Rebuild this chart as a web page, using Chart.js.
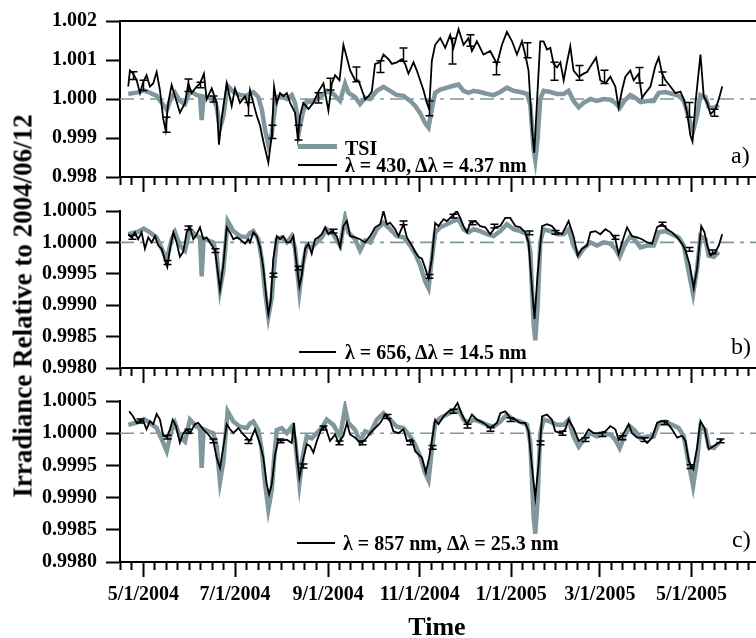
<!DOCTYPE html>
<html>
<head>
<meta charset="utf-8">
<title>Irradiance relative to 2004/06/12</title>
<script src="https://cdn.jsdelivr.net/npm/chart.js@4.4.1/dist/chart.umd.min.js"></script>
<style>
  body { margin: 0; background: #fff; }
  #wrap {
    position: relative; width: 756px; height: 638px; overflow: hidden;
    font-family: 'Liberation Serif', 'Times New Roman', serif; color: #000;
  }
  #wrap canvas { position: absolute; left: 0; }
  .lab { position: absolute; white-space: nowrap; font-weight: bold; font-size: 20px; line-height: 1; transform: translateY(-50%); }
  .panel { position: absolute; font-size: 24px; line-height: 1; transform: translateY(-50%); }
  .swatch { position: absolute; }
  #ytitle {
    position: absolute; left: 23px; top: 306px; white-space: nowrap;
    font-weight: bold; font-size: 27px; line-height: 1;
    transform: translate(-50%, -50%) rotate(-90deg);
  }
  #xtitle {
    position: absolute; left: 437px; top: 627px; white-space: nowrap;
    font-weight: bold; font-size: 26px; line-height: 1;
    transform: translate(-50%, -50%);
  }
</style>
</head>
<body>
<div id="wrap">
  <canvas id="panelA" width="756" height="200" style="top:0px"></canvas>
  <canvas id="panelB" width="756" height="200" style="top:190px"></canvas>
  <canvas id="panelC" width="756" height="258" style="top:380px"></canvas>

  <div id="ytitle">Irradiance Relative to 2004/06/12</div>
  <div id="xtitle">Time</div>

  <!-- panel a legend -->
  <div class="swatch" style="left:298px;top:144px;width:39px;height:5px;background:#7f979d"></div>
  <div class="lab" style="left:345px;top:148px">TSI</div>
  <div class="swatch" style="left:298px;top:164px;width:39px;height:2px;background:#000"></div>
  <div class="lab" style="left:345px;top:165px">λ = 430, Δλ = 4.37 nm</div>
  <div class="panel" style="left:731px;top:155px">a)</div>

  <!-- panel b legend -->
  <div class="swatch" style="left:299px;top:351px;width:37px;height:2px;background:#000"></div>
  <div class="lab" style="left:345px;top:352px">λ = 656, Δλ = 14.5 nm</div>
  <div class="panel" style="left:731px;top:346px">b)</div>

  <!-- panel c legend -->
  <div class="swatch" style="left:297px;top:542px;width:38px;height:2px;background:#000"></div>
  <div class="lab" style="left:343px;top:543px">λ = 857 nm, Δλ = 25.3 nm</div>
  <div class="panel" style="left:732px;top:539px">c)</div>
</div>

<script>
// x values are days since 5/1/2004
const majorDays = [0, 61, 123, 184, 245, 304, 365];
const majorLabels = ['5/1/2004', '7/1/2004', '9/1/2004', '11/1/2004', '1/1/2005', '3/1/2005', '5/1/2005'];
const xMin = -15.6;
const xMax = 408;

const ticksA = [0.998, 0.999, 1.000, 1.001, 1.002];
const ticksBC = [0.998, 0.9985, 0.999, 0.9995, 1.000, 1.0005];
const refLevel = 1.0;

// total solar irradiance (same in every panel)
const tsiDays = [
  -10.1, -6.8, -3.5, 0.3, 4.3, 8.8, 13.2, 15.5, 18.8, 21,
  24.3, 27.7, 31, 35.5, 37.7, 38.8, 40.1, 43.2, 46.5, 48.8,
  51, 53.2, 56.1, 59.9, 64.3, 68.8, 71, 73.2, 76.5, 78.8,
  81, 83.2, 85.5, 87, 88.8, 92.1, 95.5, 98.8, 101, 103.9,
  106.1, 108.8, 112.1, 115.5, 118.8, 122.1, 126.5, 131, 134.3, 136.5,
  141, 144.3, 147.7, 151, 155.5, 159.9, 164.3, 168.8, 173.2, 177.7,
  181, 184.3, 187.7, 189.9, 192.1, 194.3, 197.7, 202.1, 206.5, 209.9,
  213.2, 216.5, 219.9, 224.3, 228.8, 233.2, 237.7, 242.1, 246.5, 251,
  255.5, 257.7, 259.9, 261, 262.5, 264.3, 266.5, 271, 275.5, 279.9,
  283.2, 286.5, 289.9, 293.2, 297.7, 302.1, 306.5, 311, 314.3, 317.2,
  320.3, 324.3, 327.7, 331, 335.5, 339.9, 343.2, 347.7, 352.1, 356.5,
  359.9, 363.2, 366.1, 368.8, 371, 374.3, 376.5, 379.9, 383.2
];
const tsiValues = [
  1.00013, 1.00015, 1.00017, 1.00022, 1.00016, 1.00008, 0.99985, 0.99972, 1.00005, 1.00016,
  0.99995, 0.99987, 1.00021, 1.0001, 1.00008, 0.99946, 1.00006, 1.00003, 1.0, 0.9998,
  0.99925, 0.99955, 1.00034, 1.00018, 1.0001, 1.00008, 1.00015, 1.00018, 1.00005, 0.99974,
  0.99922, 0.99882, 0.99912, 0.99959, 1.00005, 1.00008, 1.0, 1.0001, 0.9999, 0.99922,
  0.99964, 0.99995, 0.99992, 1.0, 1.00008, 1.00021, 1.00013, 0.99995, 1.00039, 1.00016,
  1.00005, 0.99987, 1.00003, 1.0, 1.00021, 1.00031, 1.00021, 1.0001, 1.00008, 0.99995,
  0.99982, 0.99964, 0.99938, 0.99927, 0.99974, 1.00016, 1.00024, 1.00029, 1.00034, 1.00037,
  1.00021, 1.00016, 1.00021, 1.00018, 1.00013, 1.0001, 1.00018, 1.00029, 1.00021, 1.00018,
  1.00013, 0.99985, 0.9987, 0.99844, 0.99896, 1.0, 1.00021, 1.00018, 1.00013, 1.00013,
  1.00021, 0.99995, 0.99979, 0.9999, 1.0, 0.99995, 1.0, 0.99998, 0.9999, 0.99977,
  0.99995, 1.0001, 1.00003, 0.99992, 0.99995, 0.99995, 1.00016, 1.00018, 1.00013, 1.00008,
  0.99995, 0.99953, 0.99918, 0.99959, 1.0001, 1.00005, 0.99979, 0.99977, 0.99985
];

// lambda = 430 nm
const days430 = [
  -10.1, -9, -6.8, -4.5, -2.3, -0.1, 2.1, 4.3, 6.5, 8.8,
  11, 13.2, 14.8, 16.5, 18.8, 21, 24.3, 27.7, 29.9, 32.1,
  35.5, 37.7, 40.3, 42.1, 45.5, 48.8, 50.3, 52.1, 55.5, 58.8,
  61, 64.3, 67.7, 69.9, 71, 73.2, 75.5, 77.7, 79.9, 83.2,
  85.5, 87, 88.8, 91, 93.2, 95.5, 97.7, 101, 102.8, 104.3,
  106.5, 109.9, 113.2, 116.5, 119.9, 123.2, 125.5, 127.7, 130.6, 133.2,
  135.5, 137.7, 141, 143.2, 145.5, 147.7, 149.9, 152.1, 154.3, 157.7,
  159.9, 163.2, 165.5, 168.8, 172.1, 174.3, 176.5, 179.9, 182.1, 184.3,
  186.5, 188.8, 190.3, 192.1, 194.3, 197.7, 201, 204.3, 206.5, 209.9,
  213.2, 216.5, 218.8, 222.1, 226.5, 231, 235.5, 238.8, 242.1, 245.5,
  248.8, 252.1, 254.3, 256.5, 258.8, 260.3, 262.1, 264.3, 266.5, 268.8,
  271, 273.2, 275.5, 277.7, 279.9, 282.1, 284.3, 286.5, 289.9, 293.2,
  295.5, 298.8, 301.5, 304.3, 307.7, 311, 314.3, 316.5, 318.8, 321,
  324.3, 326.5, 329.9, 332.1, 334.3, 337.7, 341, 343.2, 345.5, 347.7,
  351, 354.3, 357.7, 359.9, 362.1, 364.3, 365.7, 367.7, 371, 373.2,
  375.5, 377.7, 381, 383.2, 385.5
];
const values430 = [
  1.00032, 1.00073, 1.00065, 1.00048, 1.00015, 1.00044, 1.00061, 1.00032, 1.0004, 1.00069,
  1.00023, 0.99949, 0.9992, 0.9999, 1.00036, 1.00007, 0.99965, 0.9999, 1.0004, 1.00015,
  1.00032, 1.0004, 1.00065, 0.99999, 1.00027, 0.9999, 0.99883, 0.99949, 1.0004, 0.99982,
  1.00027, 0.9999, 1.00007, 0.99982, 1.00023, 0.9999, 0.99957, 0.99932, 0.99891, 0.99837,
  0.99907, 1.00032, 0.9999, 1.00015, 1.00007, 1.00015, 0.9999, 0.99965, 0.99899, 0.99957,
  0.9999, 0.99974, 0.9999, 1.00019, 1.0004, 0.9997, 1.0004, 1.00061, 1.00048, 1.00139,
  1.00106, 1.00073, 1.00048, 1.00048, 1.00023, 0.99999, 1.00007, 1.00019, 1.0009, 1.00094,
  1.00114, 1.00102, 1.0009, 1.00094, 1.00102, 1.0009, 1.00065, 1.00094, 1.00073, 1.00048,
  1.00023, 0.9999, 0.99974, 1.00098, 1.00139, 1.00156, 1.00131, 1.00164, 1.00131, 1.00179,
  1.00139, 1.00156, 1.00123, 1.00148, 1.00114, 1.00123, 1.0009, 1.00139, 1.00172, 1.00148,
  1.00114, 1.00148, 1.00114, 1.00073, 0.99924, 0.99862, 0.9999, 1.00148, 1.00148, 1.00127,
  1.00131, 1.0009, 1.00081, 1.00094, 1.00048, 1.00094, 1.00135, 1.00073, 1.00057, 1.00065,
  1.00069, 1.0009, 1.00106, 1.00048, 1.0004, 1.00057, 1.00032, 0.99978, 1.00023, 1.00057,
  1.00073, 1.00048, 1.00065, 1.00003, 1.00015, 1.00032, 1.00085, 1.00106, 1.00065, 1.00048,
  1.00032, 1.00015, 1.00019, 0.99999, 0.99965, 0.99907, 0.99891, 0.9999, 1.00114, 1.00007,
  0.9999, 0.99961, 0.99974, 0.99999, 1.00032
];
const errDays430 = [-6.8, -0.1, 14.8, 29.9, 37.7, 46.5, 69.9, 85.5, 102.8, 116.5, 124.3, 141.7, 157.7,
  173.2, 189.9, 205.5, 217.7, 235, 255.5, 273.2, 289.9, 306.5, 329.9, 345.5, 363.2, 379.9];
const errValues430 = [1.0006, 1.00035, 0.99934, 1.00035, 1.00036, 1.0, 0.99974, 0.99916, 0.99914, 1.00003, 1.00038, 1.00063, 1.00083,
  1.00114, 0.99976, 1.00123, 1.0015, 1.00078, 1.00125, 1.00071, 1.00067, 1.00057, 1.00061, 1.00052, 0.99972, 0.99965];
const errHalf430 = [0.0001, 0.00013, 0.00019, 0.00016, 0.00007, 0.00008, 0.00017, 0.00017, 0.00019, 0.00013, 0.00015, 0.00019, 0.00015,
  0.00017, 0.00019, 0.00033, 0.00015, 0.00016, 0.00019, 0.00023, 0.00019, 0.00017, 0.0002, 0.00017, 0.00019, 0.00009];

// lambda = 656 nm
const days656 = [
  -10.1, -7.9, -5.7, -3.5, -1.2, 1, 3.2, 5.5, 7.7, 9.9,
  12.1, 14.3, 15.9, 17.7, 19.9, 22.1, 24.3, 26.5, 28.8, 31,
  33.2, 35.5, 37.7, 39.9, 42.1, 44.3, 47.7, 49.2, 51, 53.2,
  55.5, 57.7, 59.9, 62.1, 64.3, 67.7, 69.9, 71, 73.2, 75.5,
  77.7, 79.9, 82.1, 83.2, 84.8, 86.5, 88.8, 91, 93.2, 95.5,
  97.7, 99.9, 102.1, 103.9, 105.5, 107.7, 109.9, 112.1, 114.3, 116.5,
  118.8, 121, 123.2, 125.5, 128.8, 131, 133.2, 135.5, 137.7, 141,
  144.3, 147.7, 151, 154.3, 157.7, 159.9, 162.1, 164.3, 167.7, 169.9,
  173.2, 175.5, 178.8, 181, 183.2, 185.5, 187.7, 189.9, 192.1, 194.3,
  196.5, 199.9, 202.1, 205.5, 208.8, 211, 213.2, 215.5, 217.7, 221,
  224.3, 227.7, 231, 234.3, 237.7, 241, 244.3, 247.7, 251, 254.3,
  256.5, 258.8, 260.5, 262.5, 265.5, 268.8, 272.1, 275.5, 278.8, 283.2,
  286.5, 289.2, 292.1, 295.5, 297.7, 301, 304.3, 307.7, 311, 314.3,
  316.5, 318.8, 322.1, 325.5, 328.8, 332.1, 335.5, 338.8, 342.1, 345.5,
  348.8, 352.1, 355.5, 358.8, 361, 363.9, 366.5, 368.8, 371.5, 373.7,
  375.5, 377.7, 381, 383.2, 385.5
];
const values656 = [
  1.00013, 1.00008, 1.00016, 1.00005, 1.00016, 0.9999, 1.00008, 1.0, 1.0001, 0.99995,
  0.9999, 0.99972, 0.99961, 0.9999, 1.00016, 1.0, 0.99977, 0.99985, 1.00016, 1.00024,
  1.00005, 1.00013, 1.00024, 1.00005, 1.00008, 1.0, 0.99987, 0.99959, 0.99925, 0.99964,
  1.00024, 1.00016, 1.00005, 1.00008, 1.00005, 0.99998, 1.00005, 1.0, 1.00016, 1.0001,
  0.99992, 0.99959, 0.99907, 0.99886, 0.99907, 0.99974, 1.0001, 1.00005, 1.0001, 1.0,
  1.0, 1.0001, 0.99964, 0.9993, 0.99948, 0.9999, 0.99998, 0.99982, 1.00005, 1.00008,
  1.00013, 1.00024, 1.00013, 1.00018, 1.0001, 0.99992, 1.00026, 1.00034, 1.0001, 1.00008,
  1.00005, 1.0, 1.0001, 1.00024, 1.00029, 1.0005, 1.00029, 1.00031, 1.00021, 1.0001,
  1.00029, 1.00008, 0.99995, 0.99985, 0.99977, 0.99974, 0.99959, 0.99943, 0.99974, 1.00031,
  1.00026, 1.00037, 1.00034, 1.00042, 1.0005, 1.00039, 1.00026, 1.00016, 1.00031, 1.00034,
  1.00026, 1.00024, 1.00013, 1.00024, 1.00026, 1.00039, 1.00039, 1.00026, 1.00024, 1.00016,
  1.0, 0.99927, 0.99878, 0.99948, 1.00026, 1.00029, 1.00026, 1.00016, 1.00013, 1.00034,
  1.0001, 0.99979, 0.9999, 0.99995, 1.00016, 1.00018, 1.00013, 1.00021, 1.00016, 1.00005,
  0.99982, 1.0, 1.00024, 1.0001, 1.00008, 1.00005, 1.0, 0.99998, 1.00024, 1.00029,
  1.00021, 1.00016, 1.00008, 0.99998, 0.99987, 0.99964, 0.99927, 0.99959, 1.00026, 1.00016,
  0.99995, 0.99979, 0.99985, 0.99995, 1.00013
];
const errDays656 = [-7.9, 15.5, 29.7, 47.7, 86.5, 103.2, 126.5, 173.2, 189.9, 206.5, 218.8, 233.2, 256.5,
  274.3, 314.3, 345.5, 363.2, 378.8];
const errValues656 = [1.00008, 0.99968, 1.00023, 0.99987, 0.99948, 0.99959, 1.00018, 1.00031, 0.99946, 1.00042, 1.00031, 1.00026, 1.00015,
  1.00016, 1.00008, 1.00029, 0.99989, 0.99985];
const errHalf656 = 0.00003;

// lambda = 857 nm
const days857 = [
  -9.5, -6.8, -4.5, -2.3, -0.1, 2.1, 4.3, 6.5, 8.8, 11,
  13.2, 15.5, 17.7, 19.5, 21.7, 24.3, 26.5, 28.8, 31, 34.3,
  36.5, 39.9, 43.2, 46.5, 48.8, 51, 53.2, 55.5, 57.7, 59.9,
  63.2, 66.5, 69.9, 71, 74.3, 77.7, 79.9, 82.1, 83.7, 85.5,
  87.7, 89.9, 92.1, 95.5, 98.8, 100.3, 102.1, 103.9, 106.1, 108.8,
  111, 113.2, 115.5, 118.8, 121, 124.3, 127.7, 129.9, 133.2, 135.5,
  137.7, 141, 144.3, 147.7, 151, 154.3, 157.7, 161, 164.3, 166.5,
  169.9, 173.2, 175.5, 178.8, 181, 183.2, 185.5, 188.1, 190.3, 192.1,
  194.3, 196.5, 199.9, 203.2, 206.5, 209.2, 212.1, 215.5, 218.8, 222.1,
  226.5, 231, 235.5, 237.7, 241, 244.3, 247.7, 251, 254.3, 256.5,
  258.8, 261, 263.2, 265.5, 268.8, 272.1, 274.3, 277.7, 281, 283.2,
  286.5, 289.9, 293.2, 296.5, 299.9, 304.3, 307.7, 311, 314.3, 316.5,
  319.9, 323.2, 325.5, 328.8, 332.1, 335.5, 338.8, 342.1, 345.5, 348.8,
  352.1, 355.5, 358.8, 361, 363.2, 366.1, 368.8, 371, 373.7, 376.5,
  379.9, 383.2, 385.5
];
const values857 = [
  1.00034, 1.00026, 1.00016, 1.00019, 1.00019, 1.00006, 1.00019, 1.00014, 1.0003, 1.00021,
  0.99996, 0.99994, 1.00006, 1.00021, 1.00011, 0.99985, 1.0, 1.00006, 1.0, 1.00014,
  1.00016, 1.00006, 0.99998, 0.99988, 0.99962, 0.99946, 0.99978, 1.00014, 1.00006, 1.0,
  1.00008, 0.99998, 0.9999, 0.99988, 1.00006, 0.99983, 0.99962, 0.99921, 0.99905, 0.99921,
  0.99967, 0.9999, 0.99988, 0.9999, 0.99985, 1.00016, 0.99967, 0.99931, 0.99957, 0.99983,
  0.9998, 0.9997, 0.99988, 1.00008, 1.00011, 0.99988, 0.99998, 0.99985, 0.99996, 1.00016,
  0.99998, 0.99993, 0.99985, 0.9999, 1.0, 1.00008, 1.00016, 1.00029, 1.00019, 1.00003,
  1.0, 1.00006, 0.99988, 0.9999, 0.99972, 0.99967, 0.99962, 0.99939, 0.99962, 0.99988,
  1.00021, 1.00014, 1.00026, 1.00034, 1.00037, 1.00047, 1.00029, 1.00014, 1.00029, 1.00021,
  1.00016, 1.00008, 1.00016, 1.00031, 1.00034, 1.00024, 1.00021, 1.00016, 1.00016, 1.00003,
  0.99947, 0.999, 0.99952, 1.00026, 1.00029, 1.00021, 1.00003, 1.0, 1.00006, 1.00021,
  1.00008, 0.99988, 0.99993, 1.00006, 1.0, 1.0, 1.00003, 1.00011, 1.00006, 0.9999,
  1.0, 1.00014, 1.0, 0.99993, 0.99993, 0.99985, 0.99993, 1.00016, 1.00019, 1.00016,
  1.00006, 0.99993, 0.99996, 0.99988, 0.99957, 0.99944, 0.99978, 1.00019, 1.00008, 0.99975,
  0.9998, 0.99985, 0.9999
];
const errDays857 = [-2.3, 15.5, 29.7, 46.3, 69.7, 91, 106.5, 119.9, 130.5, 145.5, 162.1, 177.7, 192.1,
  206.5, 215.5, 231, 244.3, 264.3, 278.8, 294.3, 305.5, 318.8, 333.2, 346.5, 364.3, 384.3];
const errValues857 = [1.00019, 0.99994, 1.00003, 0.99988, 0.99987, 0.99988, 0.99949, 1.00008, 0.99985, 0.99985, 1.00026, 0.99985, 0.99978,
  1.00034, 1.00011, 1.00006, 1.00021, 0.99985, 1.0, 0.9999, 0.99998, 0.99993, 0.9999, 1.00016, 0.99948, 0.99988];
const errHalf857 = 0.00003;

const TSI_COLOR = '#7f979d';
const FONT = 'Liberation Serif';

// minor ticks: eight per two-month interval, same spacing continued past the ends
function buildXTicks() {
    const out = [];
    const firstStep = (majorDays[1] - majorDays[0]) / 8;
    for (let v = majorDays[0] - firstStep; v > xMin; v -= firstStep) out.unshift(v);
    for (let i = 0; i < majorDays.length - 1; i++) {
        const step = (majorDays[i + 1] - majorDays[i]) / 8;
        for (let k = 0; k < 8; k++) out.push(majorDays[i] + k * step);
    }
    const lastStep = (majorDays[6] - majorDays[5]) / 8;
    for (let v = majorDays[6]; v < xMax; v += lastStep) out.push(v);
    return out;
}
const xTickDays = buildXTicks();

function isMajor(v) {
    return majorDays.some(m => Math.abs(m - v) < 0.01);
}

function toPoints(days, values) {
    return days.map((d, i) => ({ x: d, y: values[i] }));
}

function lineSets(days, values) {
    return [
        { data: toPoints(days, values), borderColor: '#000', borderWidth: 1.8 },
        { data: toPoints(tsiDays, tsiValues), borderColor: TSI_COLOR, borderWidth: 4.5 },
        { data: [{ x: xMin, y: refLevel }, { x: xMax, y: refLevel }], borderColor: TSI_COLOR,
          borderWidth: 1.6, borderDash: [14, 6, 4, 6] }
    ];
}

function makePanel(id, cfg) {
    const errPlugin = {
        id: 'errorBars',
        afterDatasetsDraw(chart) {
            const { ctx, scales: { x, y } } = chart;
            ctx.save();
            ctx.strokeStyle = '#000';
            ctx.lineWidth = 1.5;
            cfg.errDays.forEach((d, i) => {
                const half = Array.isArray(cfg.errHalf) ? cfg.errHalf[i] : cfg.errHalf;
                const px = Math.round(x.getPixelForValue(d)) + 0.5;
                const top = y.getPixelForValue(cfg.errValues[i] + half);
                const bot = y.getPixelForValue(cfg.errValues[i] - half);
                ctx.beginPath();
                ctx.moveTo(px, top); ctx.lineTo(px, bot);
                ctx.moveTo(px - 4, top); ctx.lineTo(px + 4, top);
                ctx.moveTo(px - 4, bot); ctx.lineTo(px + 4, bot);
                ctx.stroke();
            });
            ctx.restore();
        },
        afterDraw(chart) {
            if (!cfg.topFrame) return;
            const { ctx, chartArea } = chart;
            ctx.save();
            ctx.strokeStyle = '#000';
            ctx.lineWidth = 2;
            ctx.beginPath();
            ctx.moveTo(chartArea.left - 1, chartArea.top);
            ctx.lineTo(chartArea.right, chartArea.top);
            ctx.stroke();
            ctx.restore();
        }
    };

    return new Chart(document.getElementById(id), {
        type: 'line',
        data: { datasets: cfg.datasets },
        options: {
            animation: false,
            responsive: false,
            devicePixelRatio: 1,
            elements: { point: { radius: 0 }, line: { tension: 0 } },
            layout: { padding: { top: cfg.padTop, right: 0, bottom: 0, left: 0 } },
            plugins: { legend: { display: false }, tooltip: { enabled: false } },
            scales: {
                x: {
                    type: 'linear',
                    min: xMin,
                    max: xMax,
                    afterBuildTicks: s => { s.ticks = xTickDays.map(v => ({ value: v })); },
                    afterFit: s => { s.height = cfg.xHeight; },
                    ticks: {
                        display: cfg.xLabels,
                        autoSkip: false,
                        maxRotation: 0,
                        minRotation: 0,
                        padding: 6,
                        color: '#000',
                        font: { family: FONT, size: 20, weight: 'bold' },
                        callback: v => {
                            const i = majorDays.findIndex(m => Math.abs(m - v) < 0.01);
                            return i >= 0 ? majorLabels[i] : '';
                        }
                    },
                    grid: {
                        drawOnChartArea: false,
                        tickLength: 15,
                        tickWidth: 2,
                        tickColor: '#000',
                        tickBorderDash: c => (c.tick && !isMajor(c.tick.value)) ? [7, 40] : []
                    },
                    border: { display: true, color: '#000', width: 2 }
                },
                y: {
                    min: cfg.yTicks[0],
                    max: cfg.yTicks[cfg.yTicks.length - 1],
                    afterBuildTicks: s => { s.ticks = cfg.yTicks.map(v => ({ value: v })); },
                    afterFit: s => { s.width = 120; },
                    ticks: {
                        padding: 9,
                        color: '#000',
                        font: { family: FONT, size: 20, weight: 'bold' },
                        callback: v => Number(v).toFixed(cfg.decimals)
                    },
                    grid: { drawOnChartArea: false, tickLength: 14, tickWidth: 2, tickColor: '#000' },
                    border: { display: true, color: '#000', width: 2 }
                }
            }
        },
        plugins: [errPlugin]
    });
}

makePanel('panelA', {
    datasets: lineSets(days430, values430),
    yTicks: ticksA, decimals: 3, padTop: 16, xHeight: 23, xLabels: false, topFrame: true,
    errDays: errDays430, errValues: errValues430, errHalf: errHalf430
});
makePanel('panelB', {
    datasets: lineSets(days656, values656),
    yTicks: ticksBC, decimals: 4, padTop: 18, xHeight: 22, xLabels: false, topFrame: false,
    errDays: errDays656, errValues: errValues656, errHalf: errHalf656
});
makePanel('panelC', {
    datasets: lineSets(days857, values857),
    yTicks: ticksBC, decimals: 4, padTop: 20, xHeight: 76, xLabels: true, topFrame: false,
    errDays: errDays857, errValues: errValues857, errHalf: errHalf857
});
</script>
</body>
</html>
